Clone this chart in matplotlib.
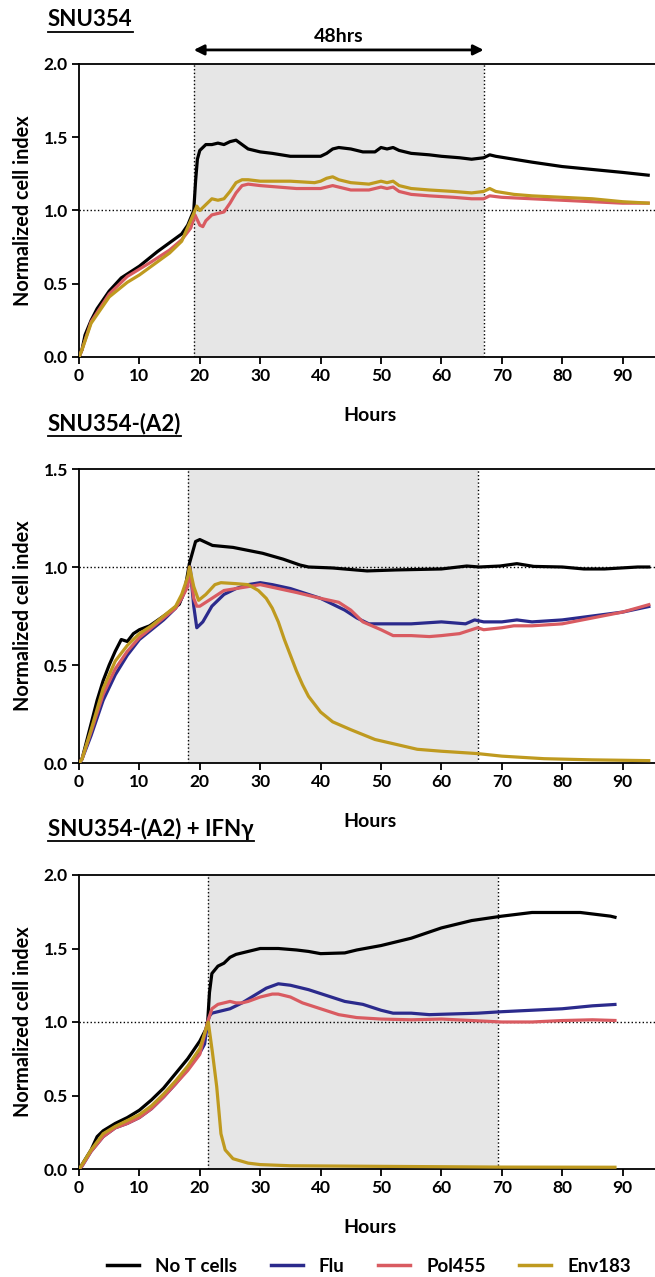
import numpy as np
import matplotlib.pyplot as plt
from matplotlib.lines import Line2D

plt.rcParams['font.family'] = ['Lato', 'DejaVu Sans']
plt.rcParams['font.weight'] = 'bold'

# couleurs des séries
c_no = '#000000'
c_flu = '#2b2a8c'
c_pol = '#d95b61'
c_env = '#bf9a1f'

# ---------- SNU354 ----------
p1_no_x = [0, 0.5, 1, 2, 3, 5, 7, 10, 13, 15, 17, 18, 18.8, 19, 19.3, 19.6, 20, 21, 22, 23, 24, 25, 26, 27, 28, 30, 32, 35, 38, 40, 41, 42, 43, 45, 47, 49, 50, 51, 52, 53, 55, 58, 60, 63, 65, 67, 68, 69, 72, 75, 80, 85, 90, 94.5]
p1_no_y = [0, 0.05, 0.15, 0.25, 0.33, 0.45, 0.54, 0.62, 0.72, 0.78, 0.84, 0.9, 0.98, 1.0, 1.2, 1.35, 1.41, 1.45, 1.45, 1.46, 1.45, 1.47, 1.48, 1.45, 1.42, 1.4, 1.39, 1.37, 1.37, 1.37, 1.39, 1.42, 1.43, 1.42, 1.4, 1.4, 1.43, 1.42, 1.43, 1.41, 1.39, 1.38, 1.37, 1.36, 1.35, 1.36, 1.38, 1.37, 1.35, 1.33, 1.3, 1.28, 1.26, 1.24]

p1_pol_x = [0, 0.5, 2, 5, 8, 10, 12, 15, 17, 18.5, 19.2, 20, 20.5, 21, 22, 23, 24, 25, 26, 27, 28, 30, 33, 36, 40, 41, 42, 43, 45, 48, 50, 51, 52, 53, 55, 58, 62, 65, 67, 68, 70, 75, 80, 85, 90, 94.5]
p1_pol_y = [0, 0.05, 0.24, 0.43, 0.55, 0.6, 0.65, 0.73, 0.8, 0.88, 0.97, 0.9, 0.89, 0.93, 0.97, 0.98, 0.99, 1.05, 1.12, 1.17, 1.18, 1.17, 1.16, 1.15, 1.15, 1.16, 1.17, 1.16, 1.14, 1.14, 1.16, 1.15, 1.16, 1.13, 1.11, 1.1, 1.09, 1.08, 1.08, 1.1, 1.09, 1.08, 1.07, 1.06, 1.05, 1.05]

p1_env_x = [0, 0.5, 2, 5, 8, 10, 12, 15, 17, 19, 19.5, 20, 21, 22, 23, 24, 25, 26, 27, 28, 30, 35, 39, 40, 41, 42, 43, 45, 48, 50, 51, 52, 53, 55, 58, 62, 65, 67, 68, 69, 72, 75, 80, 85, 90, 94.5]
p1_env_y = [0, 0.05, 0.23, 0.41, 0.51, 0.56, 0.62, 0.71, 0.79, 0.98, 1.03, 1.0, 1.04, 1.08, 1.07, 1.08, 1.13, 1.19, 1.21, 1.21, 1.2, 1.2, 1.19, 1.2, 1.22, 1.23, 1.21, 1.19, 1.18, 1.2, 1.19, 1.2, 1.17, 1.15, 1.14, 1.13, 1.12, 1.13, 1.15, 1.13, 1.11, 1.1, 1.09, 1.08, 1.06, 1.05]

# ---------- SNU354-(A2) ----------
p2_no_x = [0, 0.5, 1, 2, 3, 4, 5, 6, 7, 8, 9, 10, 11.7, 14.5, 16.6, 17.5, 18.3, 19.3, 20, 22.1, 25.5, 30.4, 33.8, 36.6, 38, 42, 47.7, 52.5, 60, 64.2, 66.3, 69.7, 72.5, 75.3, 80, 83.6, 87, 92.5, 94.6]
p2_no_y = [0, 0.02, 0.08, 0.2, 0.32, 0.42, 0.5, 0.57, 0.63, 0.62, 0.66, 0.68, 0.7, 0.76, 0.81, 0.88, 1.02, 1.13, 1.14, 1.11, 1.1, 1.07, 1.04, 1.01, 1.0, 0.995, 0.98, 0.985, 0.99, 1.005, 1.0, 1.005, 1.017, 1.003, 1.0, 0.99, 0.99, 1.0, 1.0]

p2_flu_x = [0, 0.5, 2, 4, 6, 8, 10, 12, 14, 16, 17, 18, 18.4, 19, 19.5, 20.5, 22, 24, 26, 28, 30, 32, 35, 38, 40, 42, 44, 46, 48, 50, 55, 60, 64, 65.5, 67, 70, 72.5, 75, 80, 85, 90, 94.6]
p2_flu_y = [0, 0.02, 0.14, 0.32, 0.45, 0.55, 0.63, 0.68, 0.73, 0.79, 0.84, 0.92, 1.0, 0.8, 0.69, 0.72, 0.8, 0.86, 0.89, 0.91, 0.92, 0.91, 0.89, 0.86, 0.84, 0.81, 0.78, 0.74, 0.71, 0.71, 0.71, 0.72, 0.71, 0.73, 0.72, 0.72, 0.73, 0.72, 0.73, 0.75, 0.77, 0.8]

p2_pol_x = [0, 0.5, 2, 4, 6, 8, 10, 12, 14, 16, 17, 18, 18.3, 19, 19.5, 20, 22, 24, 26, 28, 30, 33, 36, 40, 43, 45, 47, 50, 52, 55, 58, 60, 63, 65, 66, 67, 70, 72, 75, 80, 85, 90, 94.6]
p2_pol_y = [0, 0.02, 0.16, 0.35, 0.48, 0.57, 0.64, 0.69, 0.74, 0.79, 0.84, 0.9, 1.0, 0.84, 0.8, 0.8, 0.84, 0.88, 0.89, 0.9, 0.91, 0.89, 0.87, 0.84, 0.82, 0.78, 0.72, 0.68, 0.65, 0.65, 0.645, 0.65, 0.66, 0.68, 0.69, 0.68, 0.69, 0.7, 0.7, 0.71, 0.74, 0.77, 0.81]

p2_env_x = [0, 0.5, 2, 4, 6, 8, 10, 12, 14, 16, 17, 18, 18.3, 19, 19.8, 21, 22.5, 23.5, 26, 28, 29.7, 31, 32, 33, 34, 35, 36, 37, 38, 39, 40, 42, 45, 49, 56, 60, 66, 70, 77, 85, 94.6]
p2_env_y = [0, 0.02, 0.17, 0.38, 0.52, 0.6, 0.66, 0.7, 0.75, 0.8, 0.86, 0.95, 1.0, 0.9, 0.83, 0.86, 0.91, 0.92, 0.915, 0.91, 0.88, 0.84, 0.79, 0.72, 0.63, 0.55, 0.47, 0.4, 0.34, 0.3, 0.26, 0.21, 0.17, 0.12, 0.07, 0.06, 0.048, 0.035, 0.022, 0.016, 0.012]

# ---------- SNU354-(A2) + IFNγ ----------
p3_no_x = [0, 0.5, 2, 3, 4, 6, 8, 10, 12, 14, 16, 18, 20, 21, 21.3, 21.6, 22, 23, 24, 25, 26, 28, 30, 33, 36, 38, 40, 44, 46, 50, 55, 60, 65, 70, 75, 80, 83, 85, 88, 89]
p3_no_y = [0, 0.03, 0.13, 0.22, 0.26, 0.31, 0.35, 0.4, 0.47, 0.55, 0.65, 0.75, 0.87, 0.95, 1.0, 1.2, 1.33, 1.38, 1.4, 1.44, 1.46, 1.48, 1.5, 1.5, 1.49, 1.48, 1.465, 1.47, 1.49, 1.52, 1.57, 1.64, 1.69, 1.72, 1.745, 1.745, 1.745, 1.735, 1.72, 1.71]

p3_flu_x = [0, 0.5, 2, 4, 6, 8, 10, 12, 14, 16, 18, 20, 20.8, 21.3, 21.6, 22, 23, 25, 27, 29, 31, 33, 35, 38, 41, 44, 47, 50, 52, 55, 58, 62, 66, 70, 75, 80, 85, 89]
p3_flu_y = [0, 0.02, 0.12, 0.22, 0.28, 0.31, 0.35, 0.41, 0.49, 0.58, 0.68, 0.79, 0.85, 1.0, 1.04, 1.06, 1.07, 1.09, 1.13, 1.18, 1.23, 1.26, 1.25, 1.22, 1.18, 1.14, 1.12, 1.08, 1.06, 1.06, 1.05, 1.055, 1.06, 1.07, 1.08, 1.09, 1.11, 1.12]

p3_pol_x = [0, 0.5, 2, 4, 6, 8, 10, 12, 14, 16, 18, 20, 21.3, 22, 23, 24, 25, 26, 27, 28, 30, 32, 33, 35, 37, 40, 43, 46, 50, 55, 60, 65, 70, 75, 80, 85, 89]
p3_pol_y = [0, 0.02, 0.12, 0.22, 0.28, 0.31, 0.35, 0.41, 0.49, 0.58, 0.67, 0.78, 1.0, 1.09, 1.12, 1.13, 1.14, 1.13, 1.13, 1.14, 1.17, 1.19, 1.19, 1.17, 1.13, 1.09, 1.05, 1.03, 1.02, 1.015, 1.02, 1.01, 1.0, 1.0, 1.01, 1.015, 1.01]

p3_env_x = [0, 0.5, 2, 4, 6, 8, 10, 12, 14, 16, 18, 20, 21.4, 22.1, 22.8, 23.5, 24.2, 25.5, 28, 30, 35, 50, 70, 89]
p3_env_y = [0, 0.03, 0.13, 0.24, 0.29, 0.33, 0.37, 0.43, 0.51, 0.6, 0.7, 0.82, 1.0, 0.79, 0.56, 0.24, 0.13, 0.07, 0.04, 0.03, 0.022, 0.018, 0.013, 0.012]

noms = ['No T cells', 'Flu', 'Pol455', 'Env183']
titres = ['SNU354', 'SNU354-(A2)', 'SNU354-(A2) + IFN\u03b3']
fenetres = [(19, 67), (18, 66), (21.3, 69.3)]
ymax = [2.0, 1.5, 2.0]

series = [
    [(p1_no_x, p1_no_y, c_no), (p1_pol_x, p1_pol_y, c_pol), (p1_env_x, p1_env_y, c_env)],
    [(p2_no_x, p2_no_y, c_no), (p2_flu_x, p2_flu_y, c_flu), (p2_pol_x, p2_pol_y, c_pol), (p2_env_x, p2_env_y, c_env)],
    [(p3_no_x, p3_no_y, c_no), (p3_flu_x, p3_flu_y, c_flu), (p3_pol_x, p3_pol_y, c_pol), (p3_env_x, p3_env_y, c_env)],
]

W, H = 655, 1277
fig = plt.figure(figsize=(W / 100, H / 100), dpi=100)

# (haut, bas) des axes en pixels
cadres = [(64, 357), (469, 763), (875, 1169)]
titre_y = [20, 424, 829]

x0 = 79
xmax = (W - x0) / 6.04

axes = []
for i in range(3):
    top, bot = cadres[i]
    ax = fig.add_axes([x0 / W, 1 - bot / H, 1 - x0 / W, (bot - top) / H])
    axes.append(ax)
    a, b = fenetres[i]
    ax.axvspan(a, b, color='#e6e6e6', lw=0, zorder=0)
    ax.axvline(a, color='k', ls=':', lw=1, zorder=1)
    ax.axvline(b, color='k', ls=':', lw=1, zorder=1)
    ax.axhline(1.0, color='k', ls=':', lw=1, zorder=1)
    for (xs, ys, c) in series[i]:
        ax.plot(xs, ys, color=c, lw=2.3, zorder=3, solid_capstyle='butt')
    ax.set_xlim(0, xmax)
    ax.set_ylim(0, ymax[i])
    ax.set_xticks(np.arange(0, 91, 10))
    ax.set_yticks(np.arange(0, ymax[i] + 0.01, 0.5))
    ax.yaxis.set_major_formatter(plt.FormatStrFormatter('%.1f'))
    ax.spines['right'].set_visible(False)
    for s in ['left', 'bottom', 'top']:
        ax.spines[s].set_linewidth(1.3)
    ax.tick_params(direction='out', length=5, width=1.3, labelsize=12.5, pad=3, top=False)
    for lab in ax.get_xticklabels() + ax.get_yticklabels():
        lab.set_fontweight('bold')
    ax.set_xlabel('Hours', fontsize=14, fontweight='bold')
    ax.xaxis.set_label_coords((370 - x0) / (W - x0), -0.17)
    ax.set_ylabel('Normalized cell index', fontsize=14.3, fontweight='bold')
    ax.yaxis.set_label_coords(-0.08, 0.5)

# fleche 48hrs
axes[0].annotate('', xy=(19, 2.096), xytext=(67, 2.096), xycoords='data',
                 arrowprops=dict(arrowstyle='<|-|>', color='k', lw=2, mutation_scale=15,
                                 shrinkA=0, shrinkB=0), annotation_clip=False)
axes[0].text(43, 2.19, '48hrs', ha='center', va='center', fontsize=14, fontweight='bold')

# titres soulignés
fig.canvas.draw()
rend = fig.canvas.get_renderer()
for i in range(3):
    t = fig.text(48 / W, 1 - titre_y[i] / H, titres[i], ha='left', va='center',
                 fontsize=16, fontweight='bold')
    bb = t.get_window_extent(renderer=rend)
    yl = (bb.y0 - 1) / H
    fig.add_artist(Line2D([bb.x0 / W, bb.x1 / W], [yl, yl], color='k', lw=1.3))

# légende
poignees = [Line2D([], [], color=c, lw=2.5) for c in [c_no, c_flu, c_pol, c_env]]
fig.legend(poignees, noms, loc='center', bbox_to_anchor=(369 / W, 11 / H), ncol=4,
           frameon=False, fontsize=13.5, handlelength=1.7, columnspacing=1.8, handletextpad=0.85)

fig.savefig('out.png', dpi=100)
